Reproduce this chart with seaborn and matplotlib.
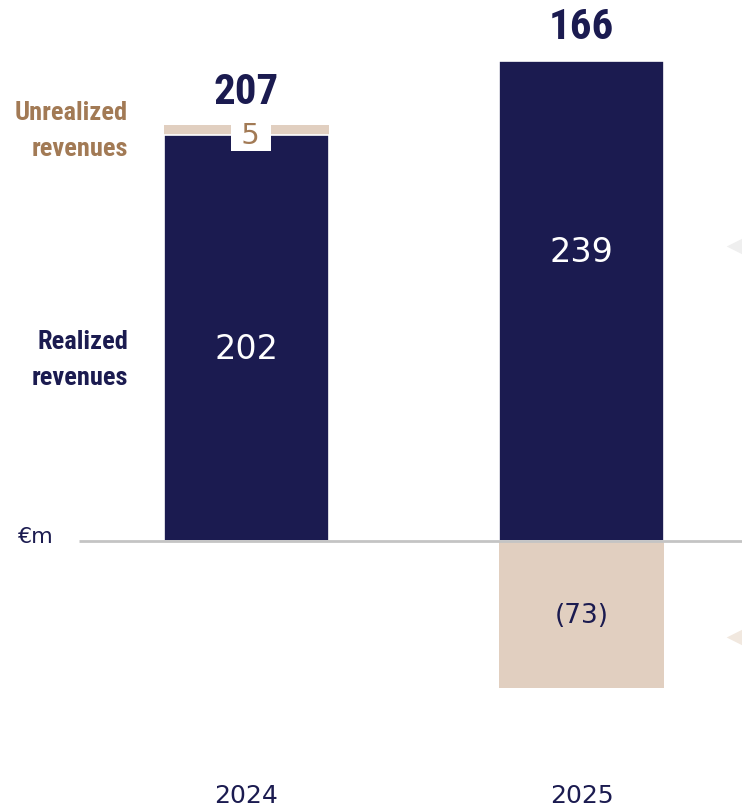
import matplotlib
matplotlib.use("Agg")
import matplotlib.pyplot as plt
from matplotlib import font_manager
import seaborn as sns
import pandas as pd

# Revenue bridge data (€m)
years = ["2024", "2025"]
realized = [202, 239]
unrealized = [5, -73]
totals = [207, 166]

NAVY = "#1b1b50"
BEIGE = "#e1cfc0"
BROWN = "#a27a55"

sns.set_theme(style="white")
plt.rcParams["font.family"] = ["DejaVu Sans"]


def condensed_bold():
    """Pick a bold narrow/condensed face if one is installed."""
    picks = []
    for f in font_manager.fontManager.ttflist:
        fn = f.fname.lower()
        w = f.weight if isinstance(f.weight, int) else 700 if "bold" in str(f.weight) else 400
        if ("narrow" in fn or "condensed" in fn) and w >= 600 and "italic" not in fn \
                and "oblique" not in fn:
            rank = 0 if "liberation" in fn else 1 if "roboto" in fn else 2
            picks.append((rank, f.fname))
    if picks:
        picks.sort()
        return font_manager.FontProperties(fname=picks[0][1]), True
    return font_manager.FontProperties(family="Roboto", weight="bold"), False


cond, is_narrow = condensed_bold()
TOTAL_SIZE = 31 if is_narrow else 25
SIDE_SIZE = 19 if is_narrow else 16

df = pd.DataFrame({"year": years, "realized": realized,
                   "unrealized": unrealized, "total": totals})
# beige layer: positive part stacks on top of realized, negative part sits below zero
df["beige"] = [r + u if u > 0 else u for r, u in zip(realized, unrealized)]

fig = plt.figure(figsize=(7.42, 8.10), dpi=100)
ax = fig.add_axes([0, 0, 1, 1])

sns.barplot(data=df, x="year", y="beige", color=BEIGE, width=0.4925,
            saturation=1, ax=ax, zorder=1, linewidth=0)
sns.barplot(data=df, x="year", y="realized", color=NAVY, width=0.4925,
            saturation=1, ax=ax, zorder=2, edgecolor="white", linewidth=1.2)

ax.set_xlim(-0.7358, 1.479)
ax.set_ylim(-134.0, 269.4)
ax.axis("off")

# baseline
ax.plot([-0.5, 1.479], [0, 0], color="#c4c4c4", lw=2, zorder=3,
        solid_capstyle="butt")

inner_y = [95.5, 143.5]
for i, (r, u, t) in enumerate(zip(realized, unrealized, totals)):
    # realized value inside the navy bar
    ax.text(i, inner_y[i], str(r), color="white", ha="center", va="center",
            fontsize=24, zorder=5)
    # total above the bar
    top = r + max(u, 0)
    fp = cond.copy()
    fp.set_size(TOTAL_SIZE)
    ax.text(i, top + 16.5, str(t), color=NAVY, ha="center", va="center",
            fontproperties=fp, zorder=5)
    if u > 0:
        ax.text(i + 0.013, r - 0.3, f" {u} ", color=BROWN, ha="center",
                va="center", fontsize=21, zorder=6,
                bbox=dict(boxstyle="square,pad=0.05", fc="white", ec="none"))
    else:
        ax.text(i, u / 2 - 1, f"({abs(u)})", color=NAVY, ha="center",
                va="center", fontsize=19, zorder=5)

# side labels
fp_side = cond.copy()
fp_side.set_size(SIDE_SIZE)
ax.text(-0.354, 204.0, "Unrealized\nrevenues", color=BROWN, ha="right",
        va="center", linespacing=1.64, fontproperties=fp_side)
ax.text(-0.354, 90.0, "Realized\nrevenues", color=NAVY, ha="right",
        va="center", linespacing=1.64, fontproperties=fp_side)
ax.text(-0.683, 2, "€m", color=NAVY, ha="left", va="center", fontsize=16)

# year labels
for i, y in enumerate(years):
    ax.text(i, -130.5, y, color=NAVY, ha="center", va="baseline", fontsize=18)

# right-edge pointers
ax.scatter([1.479], [147], marker="<", s=520, color="#efefef",
           linewidths=0, clip_on=True, zorder=0)
ax.scatter([1.479], [-48], marker="<", s=520, color="#f1e8df",
           linewidths=0, clip_on=True, zorder=0)

fig.savefig("out.png", dpi=100)
